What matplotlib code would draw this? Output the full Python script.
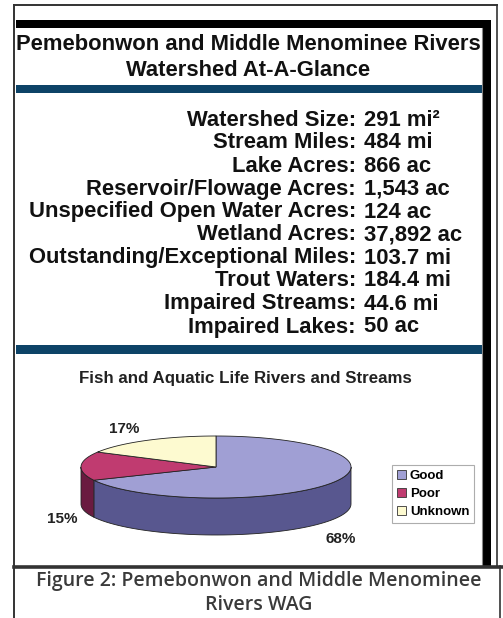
#!/usr/bin/env python3
"""
Watershed at-a-glance panel with a 3-D style pie of stream condition.
"""
import numpy as np
import matplotlib.pyplot as plt
from matplotlib.patches import Rectangle, Polygon, Patch

W, H = 503, 618

# --- content -------------------------------------------------------------
title_lines = ['Pemebonwon and Middle Menominee Rivers', 'Watershed At-A-Glance']

stat_labels = ['Watershed Size:', 'Stream Miles:', 'Lake Acres:',
               'Reservoir/Flowage Acres:', 'Unspecified Open Water Acres:',
               'Wetland Acres:', 'Outstanding/Exceptional Miles:',
               'Trout Waters:', 'Impaired Streams:', 'Impaired Lakes:']
stat_values = ['291 mi²', '484 mi', '866 ac', '1,543 ac', '124 ac',
               '37,892 ac', '103.7 mi', '184.4 mi', '44.6 mi', '50 ac']

pie_title = 'Fish and Aquatic Life Rivers and Streams'
categories = ['Good', 'Poor', 'Unknown']
shares = [68, 15, 17]

caption_lines = ['Figure 2: Pemebonwon and Middle Menominee', 'Rivers WAG']

# --- styling -------------------------------------------------------------
top_colors = ['#a09fd4', '#c03b70', '#fdfad0']
side_colors = ['#58578f', '#6a1b40', '#b8b48c']
band_color = '#0d4367'
line_color = '#333333'


def ell(theta, cx, cy, a, b, dz=0.0):
    t = np.radians(theta)
    return np.column_stack([cx + a * np.cos(t), cy - b * np.sin(t) + dz])


def draw_pie(ax, cx, cy, a, b, depth):
    fracs = np.array(shares) / sum(shares) * 360.0
    ends = 90 - np.concatenate([[0], np.cumsum(fracs)])
    # front side walls (visible where sin < 0)
    for i in range(len(shares)):
        lo, hi = ends[i + 1], ends[i]
        vlo, vhi = max(lo, -180), min(hi, 0)
        if vhi > vlo:
            th = np.linspace(vlo, vhi, 60)
            top = ell(th, cx, cy, a, b)
            bot = ell(th[::-1], cx, cy, a, b, depth)
            ax.add_patch(Polygon(np.vstack([top, bot]), closed=True,
                                 facecolor=side_colors[i], edgecolor='#222222',
                                 linewidth=0.6, zorder=3))
    # top faces
    for i in range(len(shares)):
        lo, hi = ends[i + 1], ends[i]
        th = np.linspace(lo, hi, 120)
        pts = np.vstack([[cx, cy], ell(th, cx, cy, a, b)])
        ax.add_patch(Polygon(pts, closed=True, facecolor=top_colors[i],
                             edgecolor='#222222', linewidth=0.6, zorder=4))
    return ends


fig = plt.figure(figsize=(W / 100, H / 100), dpi=100)
ax = fig.add_axes([0, 0, 1, 1])
ax.set_xlim(0, W)
ax.set_ylim(H, 0)
ax.axis('off')

# frames
ax.plot([14, 14], [4.5, H], color=line_color, lw=1.4)
ax.plot([14, 497], [4.5, 4.5], color=line_color, lw=1.4)
ax.plot([497, 497], [4.5, 566], color=line_color, lw=1.2)
ax.plot([500, 500], [566, H], color=line_color, lw=1.2)
ax.add_patch(Rectangle((16, 20), 475, 8, color='black', lw=0))
ax.add_patch(Rectangle((483, 20), 8, 546, color='black', lw=0))
ax.plot([482, 482], [28, 565], color='#888888', lw=0.8)
ax.add_patch(Rectangle((16, 85), 466, 8, color=band_color, lw=0))
ax.add_patch(Rectangle((16, 345), 466, 9, color=band_color, lw=0))
ax.plot([14, W], [567, 567], color=line_color, lw=2.6)

# heading
bold = dict(family='Liberation Sans', weight='bold')
for k, line in enumerate(title_lines):
    ax.text(248, 45 + k * 26, line, ha='center', va='center',
            fontsize=15.8, color='#111111', **bold)

# statistics
for k, (lab, val) in enumerate(zip(stat_labels, stat_values)):
    y = 120 + k * 23
    ax.text(356, y, lab, ha='right', va='center', fontsize=15.8,
            color='#111111', **bold)
    ax.text(364, y, val, ha='left', va='center', fontsize=15.8,
            color='#111111', **bold)

# pie chart
ax.text(245, 378, pie_title, ha='center', va='center', fontsize=12.2,
        color='#222222', **bold)
cx, cy, a, b, depth = 216, 467, 135, 31, 37
ends = draw_pie(ax, cx, cy, a, b, depth)
mids = (ends[:-1] + ends[1:]) / 2
# per-slice label nudges (Good, Poor, Unknown)
label_nudge = [(-3, 16), (-3, 53), (-15, -8)]
for k, m in enumerate(mids):
    (px, py), = ell([m], cx, cy, a * 1.12, b * 1.12, depth if np.sin(np.radians(m)) < 0 else 0)
    ax.text(px + label_nudge[k][0], py + label_nudge[k][1], f'{shares[k]}%',
            ha='center', va='center', fontsize=11, color='#222222', zorder=6, **bold)

handles = [Patch(facecolor=c, edgecolor='#333333', linewidth=0.6) for c in top_colors]
leg = ax.legend(handles, categories, loc='upper left',
                bbox_to_anchor=(392 / W, 1 - 465 / H), bbox_transform=fig.transFigure,
                borderaxespad=0, fancybox=False, handlelength=0.7, handleheight=0.7,
                handletextpad=0.3, labelspacing=0.45, borderpad=0.35,
                prop=dict(family='Liberation Sans', weight='bold', size=9.5))
leg.get_frame().set_edgecolor('#999999')
leg.get_frame().set_linewidth(0.8)

# caption
for k, line in enumerate(caption_lines):
    ax.text(259, 581 + k * 24, line, ha='center', va='center', fontsize=14,
            family='Open Sans', weight='semibold', color='#3a3a3a')

fig.savefig('out.png', dpi=100)
